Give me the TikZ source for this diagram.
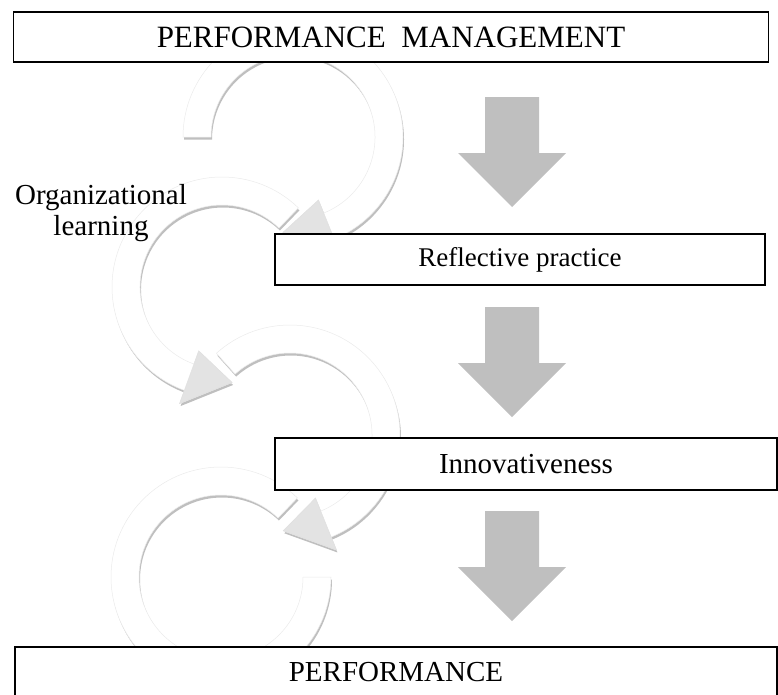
\documentclass[tikz,border=0pt]{standalone}
\usepackage{fontspec}
\setmainfont{Liberation Serif}
\usetikzlibrary{shadows}

\begin{document}
\begin{tikzpicture}[
    x=1pt, y=1pt,
    box/.style={rectangle, draw=black, fill=white, line width=1.3pt, inner sep=0pt, font=\fontsize{29}{31}\selectfont},
    ring/.style={fill=white, draw=black!8, line width=0.5pt, drop shadow={shadow xshift=1pt, shadow yshift=-2.5pt, opacity=0.25, fill=black}},
    head/.style={fill=black!11, draw=black!12, line width=0.5pt},
    blockarrow/.style={fill=black!25}
  ]
    \useasboundingbox (0,0) rectangle (778,-694);

    % learning loops
    \begin{scope}[shift={(293,-137)}]
      \path[ring] (180:110pt) arc[start angle=180, end angle=-68, radius=110pt]
        -- (-68:124pt) -- (-96:96pt) -- (-68:68pt) -- (-68:82pt)
        arc[start angle=-68, end angle=180, radius=82pt] -- cycle;
      \path[head] (-68:124pt) -- (-96:96pt) -- (-68:68pt) -- cycle;
    \end{scope}
    \begin{scope}[shift={(222,-287)}]
      \path[ring] (46:110pt) arc[start angle=46, end angle=250, radius=110pt]
        -- (250:124pt) -- (276:96pt) -- (250:68pt) -- (250:82pt)
        arc[start angle=250, end angle=46, radius=82pt] -- cycle;
      \path[head] (250:124pt) -- (276:96pt) -- (250:68pt) -- cycle;
    \end{scope}
    \begin{scope}[shift={(290,-435)}]
      \path[ring] (132:110pt) arc[start angle=132, end angle=-68, radius=110pt]
        -- (-68:124pt) -- (-94:96pt) -- (-68:68pt) -- (-68:82pt)
        arc[start angle=-68, end angle=132, radius=82pt] -- cycle;
      \path[head] (-68:124pt) -- (-94:96pt) -- (-68:68pt) -- cycle;
    \end{scope}
    \begin{scope}[shift={(221,-577)}]
      \path[ring] (46:110pt) arc[start angle=46, end angle=360, radius=110pt]
        -- (0:82pt) arc[start angle=360, end angle=46, radius=82pt] -- cycle;
    \end{scope}

    \node[font=\fontsize{29}{31}\selectfont, align=center] (orglearn) at (101,-213) {Organizational\\learning};

    % down arrows
    \foreach \t in {97,307,511}
      \fill[blockarrow] (485,-\t) -- (539,-\t) -- (539,{-\t-56}) -- (566,{-\t-56})
        -- (512,{-\t-110}) -- (458,{-\t-56}) -- (485,{-\t-56}) -- cycle;

    \node[box, font=\fontsize{31}{33}\selectfont, minimum width=755pt, minimum height=50pt] (pm) at (391,-37) {PERFORMANCE\ \ MANAGEMENT};
    \node[box, font=\fontsize{27}{29}\selectfont, minimum width=490pt, minimum height=51pt] (refl) at (520,-259.5) {Reflective practice};
    \node[box, minimum width=502pt, minimum height=52pt] (innov) at (526,-464) {Innovativeness};
    \node[box, minimum width=762pt, minimum height=50pt] (perf) at (396,-672) {PERFORMANCE};
  \end{tikzpicture}
\end{document}
